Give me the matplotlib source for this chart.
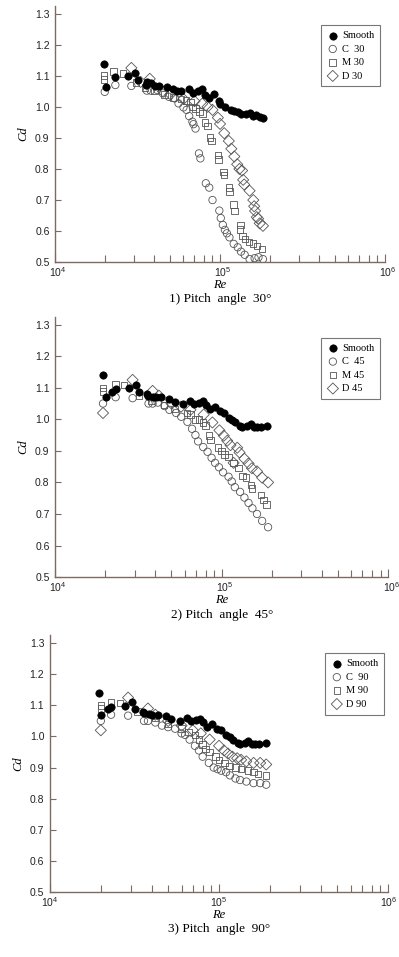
import numpy as np
import matplotlib
matplotlib.use("Agg")
import matplotlib.pyplot as plt
import matplotlib.transforms as mtransforms
from matplotlib.ticker import LogLocator, NullFormatter

# Re in thousands, Cd
re_s1 = [19.7, 20.3, 23.2, 27.7, 30.5, 31.8, 35.4, 36.0, 37.9, 40.1, 42.7, 48.0, 51.5, 54.7, 57.8,
         64.4, 68.1, 73.1, 77.7, 81.1, 86.2, 92.3, 99.1, 99.5, 107, 117, 122, 129, 134, 144,
         151, 158, 166, 174, 182]
cd_s1 = [1.139, 1.064, 1.097, 1.099, 1.110, 1.086, 1.070, 1.080, 1.075, 1.068, 1.067, 1.064, 1.056, 1.052, 1.052,
         1.058, 1.045, 1.050, 1.056, 1.038, 1.027, 1.040, 1.020, 1.010, 1.000, 0.990, 0.986, 0.982, 0.976, 0.976,
         0.979, 0.970, 0.973, 0.966, 0.963]
re_s2 = [19.4, 20.1, 22.0, 23.1, 27.8, 30.6, 32.0, 35.5, 36.0, 38.5, 40.4, 43.3, 48.6, 52.2, 58.5,
         64.3, 68.3, 73.0, 77.5, 80.1, 84.8, 91.0, 97.7, 102.6, 110, 115.5, 120.9, 129.6, 132.6, 142.4,
         149.2, 156.3, 163.8, 171.6, 188.3]
cd_s2 = [1.140, 1.070, 1.088, 1.095, 1.098, 1.110, 1.088, 1.080, 1.075, 1.072, 1.070, 1.070, 1.065, 1.055, 1.050,
         1.058, 1.050, 1.052, 1.057, 1.045, 1.032, 1.040, 1.025, 1.020, 1.005, 0.998, 0.990, 0.980, 0.975, 0.980,
         0.985, 0.975, 0.975, 0.975, 0.980]

re_c1 = [20.0, 23.2, 29.0, 36.0, 38.0, 41.6, 45.0, 49.0, 53.0, 56.0, 60.0, 62.7, 65.0, 68.0, 69.0,
         71.0, 74.5, 76.0, 82.0, 86.0, 90.0, 99.0, 101, 104, 107, 110, 114, 121, 128, 134,
         141, 151, 162, 171, 182]
cd_c1 = [1.048, 1.070, 1.067, 1.052, 1.052, 1.054, 1.043, 1.032, 1.027, 1.011, 0.998, 0.990, 0.970, 0.952, 0.944,
         0.930, 0.850, 0.834, 0.754, 0.740, 0.700, 0.666, 0.642, 0.620, 0.604, 0.593, 0.580, 0.559, 0.548, 0.534,
         0.524, 0.510, 0.513, 0.516, 0.510]
re_m1 = [19.8, 19.8, 22.6, 25.8, 31.0, 35.0, 40.0, 46.0, 52.0, 58.0, 62.0, 66.0, 68.0, 71.0, 75.0,
         78.0, 81.0, 84.0, 87.0, 89.0, 97.0, 98.0, 105, 106, 113, 114, 121, 122, 133, 132,
         137, 142, 150, 158, 168, 180]
cd_m1 = [1.100, 1.088, 1.113, 1.107, 1.078, 1.062, 1.050, 1.040, 1.030, 1.025, 1.020, 1.015, 1.000, 0.995, 0.985,
         0.978, 0.950, 0.938, 0.902, 0.890, 0.845, 0.830, 0.790, 0.780, 0.740, 0.728, 0.685, 0.665, 0.620, 0.605,
         0.585, 0.575, 0.565, 0.560, 0.552, 0.543]
re_d1 = [29.0, 33.0, 37.5, 45.0, 50.0, 60.0, 70.0, 78.0, 84.0, 90.0, 97.0, 100, 106, 113, 117,
         122, 127, 131, 136, 138, 140, 151, 159, 161, 163, 167, 170, 174, 182]
cd_d1 = [1.125, 1.080, 1.090, 1.050, 1.040, 1.025, 1.018, 1.010, 1.000, 0.990, 0.965, 0.945, 0.915, 0.890, 0.865,
         0.840, 0.815, 0.800, 0.795, 0.765, 0.750, 0.730, 0.700, 0.680, 0.665, 0.645, 0.640, 0.625, 0.617]

re_c2 = [19.4, 23.1, 29.2, 36.4, 38.5, 41.3, 45.4, 48.6, 53.3, 57.2, 62.3, 66.4, 69.6, 72.2, 77.5,
         82.3, 87.0, 91.3, 96.4, 102, 110, 115, 120, 129, 137, 145, 153, 163, 175, 190]
cd_c2 = [1.050, 1.070, 1.067, 1.050, 1.050, 1.053, 1.042, 1.030, 1.020, 1.008, 0.992, 0.970, 0.950, 0.930, 0.912,
         0.897, 0.878, 0.862, 0.848, 0.832, 0.818, 0.803, 0.785, 0.770, 0.752, 0.735, 0.718, 0.700, 0.678, 0.658]
re_m2 = [19.4, 19.4, 23.1, 26.0, 32.0, 38.0, 45.0, 52.0, 62.0, 65.0, 69.0, 73.0, 77.5, 80.0, 84.0,
         86.0, 95.0, 100, 104, 110, 118, 126, 133, 140, 150, 152, 172, 178, 186]
cd_m2 = [1.100, 1.088, 1.112, 1.108, 1.075, 1.058, 1.045, 1.032, 1.020, 1.015, 1.000, 1.000, 0.990, 0.980, 0.948,
         0.935, 0.910, 0.900, 0.888, 0.880, 0.862, 0.845, 0.820, 0.815, 0.792, 0.780, 0.760, 0.745, 0.730]
re_d2 = [19.4, 29.2, 38.5, 42.0, 50.0, 57.0, 65.0, 78.0, 88.0, 97.0, 103, 108, 113, 118, 124,
         128, 137, 145, 152, 163, 175, 190]
cd_d2 = [1.020, 1.125, 1.090, 1.075, 1.050, 1.040, 1.030, 1.015, 0.990, 0.965, 0.948, 0.932, 0.918, 0.862, 0.910,
         0.895, 0.875, 0.860, 0.845, 0.835, 0.815, 0.800]

re_c3 = [20, 23, 29, 36, 38, 42, 46, 50, 55, 60, 63, 67, 72, 76, 80, 87, 93, 98, 103, 110, 116, 125,
         133, 145, 160, 175, 190]
cd_c3 = [1.05, 1.07, 1.067, 1.05, 1.05, 1.045, 1.035, 1.03, 1.025, 1.01, 1.005, 0.99, 0.97, 0.955, 0.935,
         0.915, 0.90, 0.895, 0.89, 0.885, 0.875, 0.865, 0.86, 0.855, 0.85, 0.85, 0.845]
re_m3 = [20, 20, 23, 26, 33, 42, 50, 60, 66, 72, 76, 80, 83, 88, 95, 100, 108, 115, 125, 135, 148, 160, 170, 190]
cd_m3 = [1.10, 1.09, 1.11, 1.108, 1.08, 1.06, 1.04, 1.025, 1.015, 1.005, 0.99, 0.975, 0.96, 0.95, 0.935,
         0.925, 0.915, 0.905, 0.90, 0.895, 0.89, 0.885, 0.88, 0.875]
re_d3 = [20, 29, 38, 42, 50, 60, 70, 78, 88, 100, 107, 113, 120, 128, 135, 145, 160, 175, 190]
cd_d3 = [1.02, 1.125, 1.09, 1.07, 1.05, 1.035, 1.02, 1.01, 0.99, 0.97, 0.955, 0.945, 0.935, 0.93, 0.925,
         0.92, 0.915, 0.915, 0.91]

angles = [30, 45, 90]
panels = [
    (re_s1, cd_s1, re_c1, cd_c1, re_m1, cd_m1, re_d1, cd_d1),
    (re_s2, cd_s2, re_c2, cd_c2, re_m2, cd_m2, re_d2, cd_d2),
    (re_s2, cd_s2, re_c3, cd_c3, re_m3, cd_m3, re_d3, cd_d3),
]
# axes boxes in figure fraction and legend anchors
boxes = [[0.138, 0.726, 0.827, 0.268], [0.138, 0.397, 0.835, 0.272], [0.125, 0.068, 0.848, 0.268]]
leg_anchor = [(0.985, 0.924), (0.976, 0.919), (0.988, 0.93)]
label_shift = [3, 3, 0]

serif = 'Liberation Serif'
sans = 'Liberation Sans'
spine_col = '#7d6b62'
edge = '#555555'

fig = plt.figure(figsize=(3.99, 9.57), dpi=100)
for i, ang in enumerate(angles):
    rs, cs, rc, cc, rm, cm, rd, cdd = panels[i]
    ax = fig.add_axes(boxes[i])
    ax.scatter(np.array(rs) * 1e3, cs, s=28, c='black', edgecolors='black', linewidths=0.5, label='Smooth', zorder=4)
    ax.scatter(np.array(rc) * 1e3, cc, s=28, facecolors='none', edgecolors=edge, linewidths=0.6,
               label='C  %d' % ang, zorder=3)
    ax.scatter(np.array(rm) * 1e3, cm, s=22, marker='s', facecolors='none', edgecolors=edge, linewidths=0.6,
               label='M %d' % ang, zorder=3)
    ax.scatter(np.array(rd) * 1e3, cdd, s=32, marker='D', facecolors='none', edgecolors=edge, linewidths=0.6,
               label='D %d' % ang, zorder=3)

    ax.set_xscale('log')
    ax.set_xlim(1e4, 1e6)
    ax.set_ylim(0.5, 1.325)
    ax.set_yticks([0.5, 0.6, 0.7, 0.8, 0.9, 1.0, 1.1, 1.2, 1.3])
    ax.set_yticklabels(['0.5', '0.6', '0.7', '0.8', '0.9', '1.0', '1.1', '1.2', '1.3'])
    ax.xaxis.set_major_locator(LogLocator(base=10, numticks=5))
    ax.xaxis.set_minor_locator(LogLocator(base=10, subs=np.arange(2, 10), numticks=20))
    ax.xaxis.set_minor_formatter(NullFormatter())
    for sp in ['top', 'right']:
        ax.spines[sp].set_visible(False)
    for sp in ['left', 'bottom']:
        ax.spines[sp].set_color(spine_col)
        ax.spines[sp].set_linewidth(1.0)
    ax.tick_params(axis='both', which='both', direction='in', colors=spine_col, labelcolor='#222222',
                   labelsize=7.5, width=0.8)
    ax.tick_params(axis='x', which='major', length=6, pad=2)
    ax.tick_params(axis='x', which='minor', length=5)
    ax.tick_params(axis='y', length=4, pad=4)
    for lb in ax.get_yticklabels() + ax.get_xticklabels():
        lb.set_family(sans)
    shift = mtransforms.ScaledTranslation(label_shift[i] / 100, 0, fig.dpi_scale_trans)
    for lb in ax.get_xticklabels():
        lb.set_transform(lb.get_transform() + shift)

    ax.set_ylabel('Cd', family=serif, style='italic', fontsize=9, labelpad=4)
    ax.set_xlabel('Re', family=serif, style='italic', fontsize=9, labelpad=0)
    ax.text(0.5, -0.145, '%d) Pitch  angle  %d\u00b0' % (i + 1, ang), transform=ax.transAxes,
            ha='center', va='center', family=serif, fontsize=9.5)

    leg = ax.legend(loc='upper right', bbox_to_anchor=leg_anchor[i], prop={'family': serif, 'size': 7.5},
                    fancybox=False, framealpha=1, edgecolor='#777777', borderpad=0.55, labelspacing=0.4,
                    handletextpad=0.3, handlelength=1.2, borderaxespad=0, scatterpoints=1)
    leg.get_frame().set_linewidth(0.8)

fig.savefig('out.png', dpi=100)
